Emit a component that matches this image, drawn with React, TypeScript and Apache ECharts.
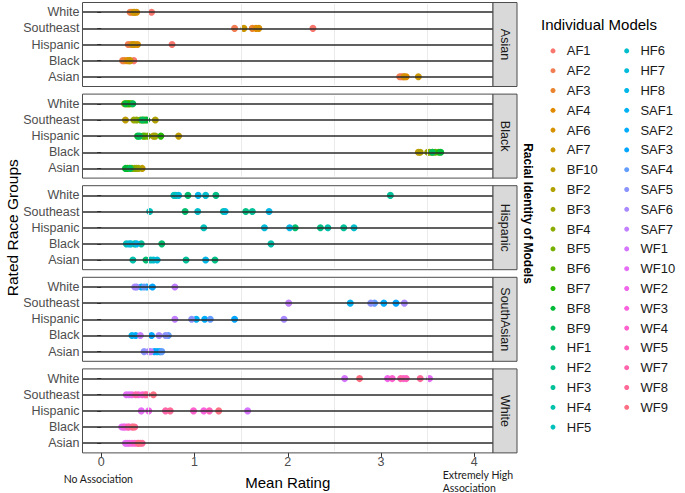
import React, { useEffect, useRef } from "react";
import * as echarts from "echarts";

// Rows of each panel, top to bottom
const ROWS = ["White", "Southeast", "Hispanic", "Black", "Asian"];
const ROWS_BOTTOM_UP = ["Asian", "Black", "Hispanic", "Southeast", "White"];
const PANELS = ["Asian", "Black", "Hispanic", "SouthAsian", "White"];
const X_TICKS = [0, 1, 2, 3, 4];
const MINOR_GRID = [0.5, 1.5, 2.5, 3.5];

// Model names per panel (racial identity of models)
const MODELS_ASIAN = ["AF1", "AF2", "AF3", "AF4", "AF6", "AF7"];
const MODELS_BLACK = ["BF10", "BF2", "BF3", "BF4", "BF5", "BF6", "BF7", "BF8", "BF9"];
const MODELS_HISPANIC = ["HF1", "HF2", "HF3", "HF4", "HF5", "HF6", "HF7", "HF8"];
const MODELS_SOUTHASIAN = ["SAF1", "SAF2", "SAF3", "SAF4", "SAF5", "SAF6", "SAF7"];
const MODELS_WHITE = ["WF1", "WF10", "WF2", "WF3", "WF4", "WF5", "WF7", "WF8", "WF9"];

// Mean ratings per model, in ROWS order: White, Southeast, Hispanic, Black, Asian
const AF1 = [0.54, 2.27, 0.76, 0.35, 3.22];
const AF2 = [0.31, 1.43, 0.29, 0.23, 3.2];
const AF3 = [0.33, 1.62, 0.32, 0.25, 3.24];
const AF4 = [0.36, 1.66, 0.36, 0.28, 3.27];
const AF6 = [0.38, 1.69, 0.39, 0.3, 3.25];
const AF7 = [0.35, 1.53, 0.34, 0.31, 3.4];

const BF10 = [0.27, 0.26, 0.83, 3.4, 0.44];
const BF2 = [0.29, 0.58, 0.56, 3.42, 0.38];
const BF3 = [0.25, 0.35, 0.58, 3.5, 0.4];
const BF4 = [0.31, 0.38, 0.47, 3.52, 0.36];
const BF5 = [0.28, 0.42, 0.5, 3.55, 0.33];
const BF6 = [0.33, 0.45, 0.45, 3.58, 0.3];
const BF7 = [0.3, 0.47, 0.64, 3.62, 0.28];
const BF8 = [0.26, 0.49, 0.39, 3.64, 0.26];
const BF9 = [0.34, 0.44, 0.41, 3.55, 0.31];

const HF1 = [0.93, 0.9, 2.08, 0.65, 0.48];
const HF2 = [1.23, 1.55, 2.35, 0.36, 1.22];
const HF3 = [3.1, 1.62, 2.6, 0.43, 0.91];
const HF4 = [0.8, 1.31, 2.43, 1.82, 0.34];
const HF5 = [0.78, 0.52, 1.1, 0.27, 0.53];
const HF6 = [1.12, 1.035, 2.71, 0.32, 0.56];
const HF7 = [0.83, 1.33, 1.75, 0.3, 0.6];
const HF8 = [1.04, 1.8, 2.02, 0.38, 1.12];

const SAF1 = [0.43, 2.67, 1.02, 0.33, 0.6];
const SAF2 = [0.49, 3.03, 1.11, 0.37, 0.63];
const SAF3 = [0.55, 3.16, 1.43, 0.54, 0.57];
const SAF4 = [0.46, 2.93, 1.17, 0.72, 0.65];
const SAF5 = [0.38, 2.89, 0.97, 0.69, 0.46];
const SAF6 = [0.36, 3.25, 1.96, 0.62, 0.51];
const SAF7 = [0.79, 2.01, 0.79, 0.42, 0.53];

const WF1 = [2.61, 0.3, 1.57, 0.24, 0.28];
const WF10 = [3.52, 0.27, 0.43, 0.22, 0.26];
const WF2 = [3.07, 0.33, 0.51, 0.27, 0.3];
const WF3 = [3.24, 0.4, 1.1, 0.25, 0.33];
const WF4 = [3.12, 0.44, 0.99, 0.3, 0.36];
const WF5 = [3.27, 0.47, 1.16, 0.33, 0.39];
const WF7 = [3.21, 0.37, 0.69, 0.29, 0.42];
const WF8 = [3.42, 0.49, 0.74, 0.36, 0.44];
const WF9 = [2.77, 0.56, 1.26, 0.34, 0.4];

const MODEL_VALUES: Record<string, number[]> = {
  AF1, AF2, AF3, AF4, AF6, AF7,
  BF10, BF2, BF3, BF4, BF5, BF6, BF7, BF8, BF9,
  HF1, HF2, HF3, HF4, HF5, HF6, HF7, HF8,
  SAF1, SAF2, SAF3, SAF4, SAF5, SAF6, SAF7,
  WF1, WF10, WF2, WF3, WF4, WF5, WF7, WF8, WF9,
};

const PANEL_MODELS = [MODELS_ASIAN, MODELS_BLACK, MODELS_HISPANIC, MODELS_SOUTHASIAN, MODELS_WHITE];

// ggplot2 default hue palette (hcl, c=100, l=65)
function hclHex(h: number, c: number, l: number): string {
  const hr = (h * Math.PI) / 180;
  const U = c * Math.cos(hr);
  const V = c * Math.sin(hr);
  const Xn = 95.047, Yn = 100, Zn = 108.883;
  const Y = l > 8 ? Yn * Math.pow((l + 16) / 116, 3) : (Yn * l) / 903.3;
  const den = Xn + 15 * Yn + 3 * Zn;
  const un = (4 * Xn) / den;
  const vn = (9 * Yn) / den;
  const u = U / (13 * l) + un;
  const v = V / (13 * l) + vn;
  const X = (9 * Y * u) / (4 * v);
  const Z = -X / 3 - 5 * Y + (3 * Y) / v;
  const lin = [
    (3.240479 * X - 1.53715 * Y - 0.498535 * Z) / 100,
    (-0.969256 * X + 1.875992 * Y + 0.041556 * Z) / 100,
    (0.055648 * X - 0.204043 * Y + 1.057311 * Z) / 100,
  ];
  const g = lin.map((t) => {
    let s = t > 0.00304 ? 1.055 * Math.pow(t, 1 / 2.4) - 0.055 : 12.92 * t;
    s = Math.max(0, Math.min(1, s));
    return Math.round(s * 255).toString(16).padStart(2, "0");
  });
  return "#" + g.join("");
}

const FONT = "'Liberation Sans', Arial, sans-serif";

export default function App() {
  const ref = useRef<HTMLDivElement>(null);
  useEffect(() => {
    document.body.style.margin = "0";
    if (!ref.current) return;
    const chart = echarts.init(ref.current, undefined, { renderer: "svg" });

    const PL = 82.5;
    const PW = 410.5;
    const PR = PL + PW;
    const PT0 = 2.5;
    const PH = 84;
    const GAP = 7.6;
    const STRIP_W = 24;
    const inset = (PH * 0.1) / 5.2;
    const tops = PANELS.map((_, i) => PT0 + i * (PH + GAP));
    const bottom = tops[4] + PH;
    const XMIN = -0.2;
    const XMAX = 4.2;

    const allModels = PANEL_MODELS.flat();
    const n = allModels.length;
    const colors: Record<string, string> = {};
    allModels.forEach((m, i) => {
      colors[m] = hclHex(15 + (i * 360) / n, 100, 65);
    });

    const grids: any[] = tops.map((t) => ({
      left: PL,
      width: PW,
      top: t + inset,
      height: PH - 2 * inset,
      show: false,
      containLabel: false,
      outerBoundsMode: "none",
    }));
    const axisLeft = PL + (PW * (0 - XMIN)) / (XMAX - XMIN);
    const axisWidth = (PW * (4 - 0)) / (XMAX - XMIN);
    grids.push({
      left: axisLeft,
      width: axisWidth,
      top: bottom - 1,
      height: 1,
      show: false,
      containLabel: false,
      outerBoundsMode: "none",
    });

    const xAxes: any[] = tops.map((_, i) => ({
      type: "value",
      gridIndex: i,
      min: XMIN,
      max: XMAX,
      show: false,
    }));
    xAxes.push({
      type: "value",
      gridIndex: 5,
      min: X_TICKS[0],
      max: X_TICKS[X_TICKS.length - 1],
      interval: 1,
      position: "bottom",
      axisLine: { show: false },
      axisTick: { show: true, length: 4, lineStyle: { color: "#333333", width: 1 } },
      axisLabel: { show: true, margin: 3, fontSize: 12.5, color: "#4D4D4D", fontFamily: FONT },
      splitLine: { show: false },
      name: "Mean Rating",
      nameLocation: "middle",
      nameGap: 22,
      nameTextStyle: { fontSize: 15, color: "#000000", fontFamily: FONT },
    });

    const yAxes: any[] = tops.map((_, i) => ({
      type: "category",
      gridIndex: i,
      data: ROWS_BOTTOM_UP,
      boundaryGap: true,
      axisLine: { show: false },
      axisTick: {
        show: true,
        interval: 0,
        alignWithLabel: true,
        length: 4,
        lineStyle: { color: "#333333", width: 1 },
      },
      axisLabel: { show: true, interval: 0, margin: 3, fontSize: 12.5, color: "#4D4D4D", fontFamily: FONT },
      splitLine: { show: false },
    }));
    yAxes.push({ type: "value", gridIndex: 5, show: false });

    const series: any[] = [];
    PANELS.forEach((_, p) => {
      series.push({
        type: "scatter",
        xAxisIndex: p,
        yAxisIndex: p,
        data: [],
        silent: true,
        z: 1,
        markLine: {
          silent: true,
          symbol: ["none", "none"],
          label: { show: false },
          emphasis: { disabled: true },
          animation: false,
          data: [
            ...MINOR_GRID.map((v) => ({
              xAxis: v,
              lineStyle: { color: "#EBEBEB", width: 1, type: "solid" },
            })),
            ...ROWS.map((r) => ({
              yAxis: r,
              lineStyle: { color: "#2B2B2B", width: 1.5, type: "solid" },
            })),
          ],
        },
      });
    });
    PANEL_MODELS.forEach((models, p) => {
      models.forEach((m) => {
        const vals = MODEL_VALUES[m];
        series.push({
          type: "scatter",
          name: m,
          xAxisIndex: p,
          yAxisIndex: p,
          symbol: "circle",
          symbolSize: 7,
          z: 3,
          itemStyle: { color: colors[m], opacity: 1 },
          emphasis: { disabled: true },
          data: ROWS.map((r, k) => [vals[k], r]),
        });
      });
    });

    const legendCommon = {
      orient: "vertical",
      icon: "circle",
      itemWidth: 17.5,
      itemHeight: 5,
      itemGap: 0,
      padding: 0,
      selectedMode: false,
      textStyle: { fontSize: 13, color: "#1A1A1A", fontFamily: FONT, lineHeight: 19.8 },
    };
    const legends = [
      { ...legendCommon, left: 550.5, top: 41, data: allModels.slice(0, 20) },
      { ...legendCommon, left: 624.2, top: 41, data: allModels.slice(20) },
    ];

    const graphics: any[] = [];
    tops.forEach((t, i) => {
      graphics.push({
        type: "rect",
        z: 100,
        silent: true,
        shape: { x: PL, y: t, width: PW, height: PH },
        style: { fill: "none", stroke: "#4D4D4D", lineWidth: 1 },
      });
      graphics.push({
        type: "rect",
        z: 100,
        silent: true,
        shape: { x: PR, y: t, width: STRIP_W, height: PH },
        style: { fill: "#D9D9D9", stroke: "#4D4D4D", lineWidth: 1 },
      });
      graphics.push({
        type: "text",
        z: 101,
        silent: true,
        x: PR + STRIP_W / 2,
        y: t + PH / 2,
        rotation: -Math.PI / 2,
        style: {
          text: PANELS[i],
          fontSize: 12.5,
          fill: "#1A1A1A",
          fontFamily: FONT,
          align: "center",
          verticalAlign: "middle",
        },
      });
    });
    graphics.push({
      type: "text",
      silent: true,
      x: 12.5,
      y: (tops[0] + bottom) / 2,
      rotation: Math.PI / 2,
      style: {
        text: "Rated Race Groups",
        fontSize: 15.5,
        fill: "#000000",
        fontFamily: FONT,
        align: "center",
        verticalAlign: "middle",
      },
    });
    graphics.push({
      type: "text",
      silent: true,
      x: 528,
      y: 213.5,
      rotation: -Math.PI / 2,
      style: {
        text: "Racial Identity of Models",
        fontSize: 12,
        fontWeight: "bold",
        fill: "#000000",
        fontFamily: FONT,
        align: "center",
        verticalAlign: "middle",
      },
    });
    graphics.push({
      type: "text",
      silent: true,
      x: 98.3,
      y: 479.3,
      style: {
        text: "No Association",
        fontSize: 10.5,
        fill: "#1A1A1A",
        fontFamily: "Lato, 'Liberation Sans', sans-serif",
        align: "center",
        verticalAlign: "middle",
      },
    });
    graphics.push({
      type: "text",
      silent: true,
      x: 442.7,
      y: 481.3,
      style: {
        text: "Extremely High\nAssociation",
        fontSize: 10.5,
        lineHeight: 12.7,
        fill: "#1A1A1A",
        fontFamily: "Lato, 'Liberation Sans', sans-serif",
        align: "left",
        verticalAlign: "middle",
      },
    });

    chart.setOption({
      animation: false,
      textStyle: { fontFamily: FONT },
      title: {
        text: "Individual Models",
        left: 541,
        top: 17,
        padding: 0,
        textStyle: { fontSize: 15, fontWeight: "normal", color: "#000000", fontFamily: FONT },
      },
      legend: legends,
      grid: grids,
      xAxis: xAxes,
      yAxis: yAxes,
      series,
      graphic: { elements: graphics },
    });

    return () => chart.dispose();
  }, []);
  return <div ref={ref} style={{ width: 685, height: 493 }} />;
}
